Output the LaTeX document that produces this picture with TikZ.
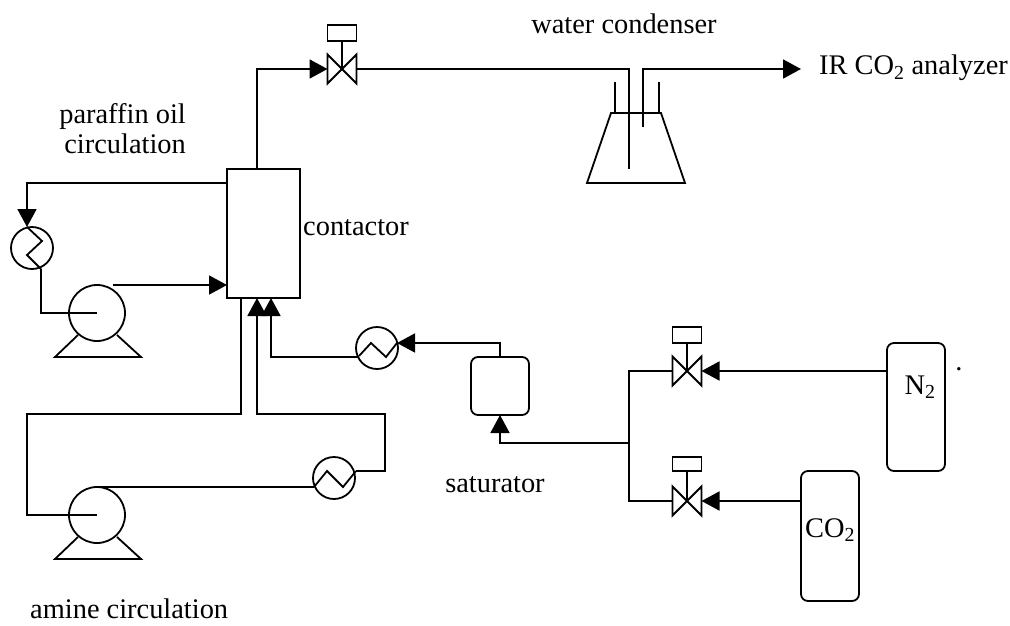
\documentclass[tikz,border=0pt]{standalone}
\usepackage{fontspec}
\setmainfont{Liberation Serif}
\usetikzlibrary{arrows.meta}
\tikzset{
	pipe/.style={line width=1.8pt,line join=miter},
	label/.style={inner sep=0pt,font=\fontsize{28.4}{32}\selectfont,align=center},
	vessel/.style={draw,pipe,shape=rectangle,inner sep=0pt,outer sep=0pt},
	tank/.style={vessel,rounded corners=7pt,minimum width=58pt},
	pump/.style={draw,pipe,shape=circle,minimum size=56pt,inner sep=0pt,outer sep=0pt},
	cooler/.style={draw,pipe,shape=circle,minimum size=42pt,inner sep=0pt,outer sep=0pt},
	valve/.style={shape=rectangle,minimum width=29pt,minimum height=29pt,inner sep=0pt,outer sep=0pt},
	actuator/.style={vessel,minimum width=29pt},
}

\begin{document}
\begin{tikzpicture}[x=1pt,y=-1pt,>/.tip={Triangle[length=18pt,width=19pt]}]
	\useasboundingbox (0,0) rectangle (1010,625);

	% equipment
	\node (contactor) [vessel,minimum width=73pt,minimum height=129pt] at (263.5,233.5) {};
	\node (P1) [pump] at (97,313) {};
	\node (P2) [pump] at (97,515) {};
	\node (H1) [cooler] at (32,248) {};
	\node (H2) [cooler] at (334,478) {};
	\node (H3) [cooler] at (377,348) {};
	\node (saturator) [tank,minimum height=58pt] at (500,386) {};
	\node (N2) [tank,minimum height=128pt] at (916,407) {};
	\node (CO2) [tank,minimum height=130pt] at (830,536) {};

	% valves
	\node (V1) [valve] at (342,69) {};
	\node (V2) [valve] at (687,371) {};
	\node (V3) [valve] at (687,501) {};
	\node (A1) [actuator,minimum height=16pt] at (342,33) {};
	\node (A2) [actuator,minimum height=16pt] at (687,335) {};
	\node (A3) [actuator,minimum height=14pt] at (687,464) {};
	\foreach \v/\a in {V1/A1,V2/A2,V3/A3} {
		\draw[pipe] (\v.north west) -- (\v.south east) -- (\v.north east) -- (\v.south west) -- cycle;
		\draw[pipe] (\a.south) -- (\v.center);
	}

	% pump stands
	\foreach \y in {0,202} {
		\draw[pipe] (78,335+\y) -- (55,357+\y) -- (141,357+\y) -- (117,335+\y);
	}

	% coolers
	\draw[pipe] (27,227) -- (42,241) -- (27,255) -- (41,269);
	\draw[pipe] (314,487) -- (327,471) -- (343,487) -- (356,471);
	\draw[pipe] (359,356) -- (371,343) -- (386,357) -- (397,343);

	% condenser flask
	\draw[pipe] (611,113) -- (661,113) -- (685,183) -- (587,183) -- cycle;
	\draw[pipe] (615,82) -- (615,113);
	\draw[pipe] (659,82) -- (659,113);

	% fixed points on the pipes
	\coordinate (topout) at (257,169);
	\coordinate (condin) at (629,69);
	\coordinate (condend) at (629,169);
	\coordinate (condout) at (643,127);
	\coordinate (condtop) at (643,69);
	\coordinate (irend) at (801,69);
	\coordinate (oilout) at (227,183);
	\coordinate (oilin) at (227,285);
	\coordinate (p1out) at (113,285);
	\coordinate (h1in) at (27,227);
	\coordinate (h1out) at (41,269);
	\coordinate (amout) at (241,298);
	\coordinate (amin) at (257,298);
	\coordinate (gasin) at (271,298);
	\coordinate (h2in) at (314,487);
	\coordinate (h2out) at (356,471);
	\coordinate (h3in) at (397,343);
	\coordinate (h3out) at (359,357);
	\coordinate (junction) at (629,443);

	% pipes
	\draw[pipe,->] (topout) -- (257,69) -- (V1.west);
	\draw[pipe] (V1.east) -- (condin) -- (condend);
	\draw[pipe,->] (condout) -- (condtop) -- (irend);
	\draw[pipe,->] (oilout) -- (27,183) -- (h1in);
	\draw[pipe] (h1out) |- (P1.center);
	\draw[pipe,->] (p1out) -- (oilin);
	\draw[pipe] (P2.center) -- (27,515) -- (27,414) -- (241,414) -- (amout);
	\draw[pipe] (P2.north) -- (h2in);
	\draw[pipe,->] (h2out) -- (385,471) -- (385,414) -- (257,414) -- (amin);
	\draw[pipe,->] (h3out) -- (271,357) -- (gasin);
	\draw[pipe,->] (saturator.north) -- (500,343) -- (h3in);
	\draw[pipe,->] (junction) -- (500,443) -- (saturator.south);
	\draw[pipe] (V2.west) -- (629,371) -- (629,501) -- (V3.west);
	\draw[pipe,->] (N2.west |- V2) -- (V2.east);
	\draw[pipe,->] (CO2.west |- V3) -- (V3.east);

	% texts
	\node (tcond) [label] at (624,24) {water condenser};
	\node (tir) [label,anchor=east] at (1008,68) {IR CO\textsubscript{2} analyzer};
	\node (toil) [label,anchor=east,align=right] at (186,129) {paraffin oil\\[-2pt]circulation};
	\node (tcont) [label,anchor=west] at (303,228) {contactor};
	\node (tsat) [label] at (495,485) {saturator};
	\node (tam) [label,anchor=west] at (30,609) {amine circulation};
	\node (tn) [label] at (920,387) {N\textsubscript{2}};
	\node (tco) [label] at (830,530) {CO\textsubscript{2}};
	\node (tdot) [label] at (959,369) {.};
\end{tikzpicture}
\end{document}
